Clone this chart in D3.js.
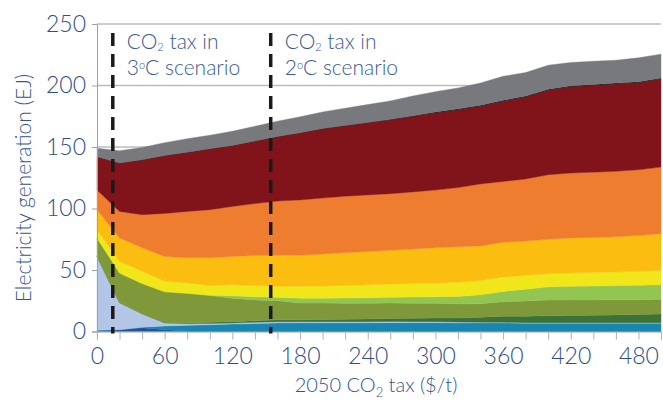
<!DOCTYPE html>
<html>
<head>
<meta charset="utf-8">
<script src="https://cdn.jsdelivr.net/npm/d3@7"></script>
<style>
  body { margin: 0; background: #fff; }
  text { font-family: Lato, "Noto Sans", sans-serif; font-weight: 300; }
</style>
</head>
<body>
<div id="chart"></div>
<script>
// CO2 tax ($/t), one point every 20
var taxes = d3.range(0, 501, 20);

var layerNames = ["navy", "teal", "lightblue", "darkgreen", "olive", "lightgreen",
                  "yellow", "gold", "orange", "darkred", "black", "gray"];
var layerColors = ["#24509c", "#1787b1", "#b3c6e6", "#3a7238", "#7f993a", "#93c552",
                   "#f1e619", "#fbbe10", "#ee7d30", "#80141a", "#1b1b1b", "#77797d"];

// values, EJ
var navy      = [1, 1.5, 3, 1.5, 0.5, 0, 0, 0, 0, 0, 0, 0, 0, 0, 0, 0, 0, 0, 0, 0, 0, 0, 0, 0, 0, 0];
var teal      = [0, 0, 0.5, 3, 4.5, 5.5, 6, 6.5, 7, 7, 7, 7, 7, 7.2, 7.2, 7.2, 7, 7, 7, 6.8, 6.8, 6.8, 6.8, 6.8, 6.8, 6.8];
var lightblue = [60, 22, 11, 2.5, 1.5, 1, 1, 1, 1, 1, 1, 1, 0.9, 0.9, 0.8, 0.8, 0.7, 0.6, 0.5, 0.4, 0.4, 0.4, 0.4, 0.4, 0.4, 0.4];
var darkgreen = [0, 0, 0, 0.3, 0.5, 1, 1, 1.2, 1.5, 1.5, 1.8, 2, 2.2, 2.5, 2.7, 3, 3.3, 4, 5, 5.3, 5.6, 5.8, 6, 6.3, 6.6, 7];
var olive     = [15, 24, 24.5, 25, 24, 21.7, 19, 17, 15.6, 13.6, 13.3, 13, 12.8, 12.5, 12.3, 12, 11.5, 11, 11.7, 12.3, 12.8, 12.7, 12.5, 12.3, 12.1, 12];
var lightgreen= [0, 0, 0, 0, 0, 0.3, 2, 2.5, 2.7, 4, 4, 4.2, 4.5, 4.8, 5, 5.3, 6, 7.3, 8.4, 9.5, 10.7, 11, 11.3, 11.5, 11.7, 11.8];
var yellow    = [6.8, 9.5, 10, 8.5, 8.5, 7.8, 9, 9.1, 9, 9.7, 9.9, 10.3, 10.6, 10.6, 11, 11.2, 11.5, 11.6, 11.8, 11.2, 10.7, 10.9, 11, 11, 11.4, 11.8];
var gold      = [16.2, 19, 19, 20.2, 20.5, 22.7, 23, 24.4, 25.2, 25.2, 26, 26.5, 27, 27.5, 28, 28.5, 29, 28, 28.1, 28, 28, 28.4, 28.5, 28.7, 29, 29.7];
var orange    = [16, 21.6, 27, 35, 37.6, 39, 40.7, 42.3, 44, 45, 45.5, 46, 46, 46, 46.5, 47, 48, 50.5, 49.5, 50.5, 52.4, 52.8, 53, 53.2, 53.5, 54.2];
var darkred   = [27, 39.4, 44.6, 47, 48.2, 49.5, 49.6, 50.8, 52.5, 54.5, 56.5, 57.5, 59, 60, 61.4, 62.7, 63.2, 63.2, 65.2, 66.7, 68.8, 70.1, 70.5, 71, 70.7, 71.5];
var black     = [0, 0, 0, 0, 0, 0, 0, 0, 0, 0, 0, 0, 0, 0.5, 0.6, 0.8, 0.8, 0.8, 0.8, 0.8, 0.8, 0.8, 0.8, 0.8, 0.8, 0.8];
var gray      = [7, 10, 10, 10.5, 11, 11, 11.5, 12, 12.5, 13, 13.5, 14, 14.5, 15, 16, 16.5, 17, 18, 19.5, 19, 19.5, 19, 19, 18.5, 19.5, 19.5];

var series = [navy, teal, lightblue, darkgreen, olive, lightgreen, yellow, gold, orange, darkred, black, gray];

var yTicks = [0, 50, 100, 150, 200, 250];
var xTickLabels = [0, 60, 120, 180, 240, 300, 360, 420, 480];
var xMinorTicks = d3.range(0, 501, 20);

// dashed markers: tax level of each scenario
var markerTax = [14, 154];
var markerLine1 = ["CO", " tax in"];
var markerLine2 = ["3", "2"];

var w = 663, h = 401;
var margin = {top: 24, right: 2, bottom: 69.5, left: 97};
var width = w - margin.left - margin.right;
var height = h - margin.top - margin.bottom;

var table = taxes.map(function(t, i) {
    var row = {tax: t};
    layerNames.forEach(function(k, j) { row[k] = series[j][i]; });
    return row;
});

var stack = d3.stack().keys(layerNames);
var stacked = stack(table);

var x = d3.scaleLinear().domain([0, 500]).range([0, width]);
var y = d3.scaleLinear().domain([0, 250]).range([height, 0]);

var svg = d3.select("#chart").append("svg")
    .attr("width", w)
    .attr("height", h);
var g = svg.append("g").attr("transform", "translate(" + margin.left + "," + margin.top + ")");

var textColor = "#2f4f87";

// gridlines
g.selectAll(".grid").data(yTicks.filter(function(d) { return d > 0; }))
  .enter().append("line")
    .attr("x1", 0).attr("x2", width)
    .attr("y1", function(d) { return y(d); })
    .attr("y2", function(d) { return y(d); })
    .style("stroke", "#bdbdbd")
    .style("stroke-width", 1.5);

var area = d3.area()
    .x(function(d) { return x(d.data.tax); })
    .y0(function(d) { return y(d[0]); })
    .y1(function(d) { return y(d[1]); });

g.selectAll(".layer").data(stacked)
  .enter().append("path")
    .attr("class", "layer")
    .attr("d", area)
    .style("fill", function(d, i) { return layerColors[i]; })
    .style("stroke", function(d, i) { return layerColors[i]; })
    .style("stroke-width", 0.4);

// y axis
var yAxis = d3.axisLeft(y).tickValues(yTicks).tickSize(5).tickPadding(6);
var ya = g.append("g").call(yAxis);
ya.select(".domain").style("stroke", "#a0a0a0");
ya.selectAll(".tick line").style("stroke", "#a0a0a0");
ya.selectAll(".tick text")
    .style("font-size", "23px").style("fill", textColor)
    .style("font-family", "Lato, 'Noto Sans', sans-serif");

// x axis, minor ticks every 20, labels every 60
var xAxis = d3.axisBottom(x).tickValues(xMinorTicks).tickSize(8)
    .tickFormat(function(d) { return xTickLabels.indexOf(d) >= 0 ? d : ""; });
var xa = g.append("g").attr("transform", "translate(0," + height + ")").call(xAxis);
xa.select(".domain").style("stroke", "#a0a0a0");
xa.selectAll(".tick line").style("stroke", "#b0b0b0");
xa.selectAll(".tick text")
    .attr("dy", "0.95em")
    .style("font-size", "23px").style("fill", textColor)
    .style("font-family", "Lato, 'Noto Sans', sans-serif");

// dashed scenario lines
g.selectAll(".marker").data(markerTax)
  .enter().append("line")
    .attr("x1", function(d) { return x(d); })
    .attr("x2", function(d) { return x(d); })
    .attr("y1", 9)
    .attr("y2", height + 2)
    .style("stroke", "#1a1a1a")
    .style("stroke-width", 3.5)
    .style("stroke-dasharray", "13,8");

// scenario labels
markerTax.forEach(function(t, i) {
    var lx = x(t) + 14;
    var tx = g.append("text")
        .attr("x", lx).attr("y", 25)
        .style("font-size", "21px").style("fill", "#3b5b93");
    tx.append("tspan").text(markerLine1[0]);
    tx.append("tspan").text("2").attr("dy", 2).style("font-size", "11px");
    tx.append("tspan").text(markerLine1[1]).attr("dy", -2);

    var tx2 = g.append("text")
        .attr("x", lx).attr("y", 51)
        .style("font-size", "21px").style("fill", "#3b5b93");
    tx2.append("tspan").text(markerLine2[i]);
    tx2.append("tspan").text("o").attr("dy", -6).style("font-size", "11px");
    tx2.append("tspan").text("C scenario").attr("dy", 6);
});

// axis titles
var yt = svg.append("text")
    .attr("transform", "translate(31,188) rotate(-90)")
    .attr("text-anchor", "middle")
    .style("font-size", "21px").style("fill", "#34558c");
yt.text("Electricity generation (EJ)");

var xt = svg.append("text")
    .attr("x", margin.left + width / 2 - 3)
    .attr("y", 392)
    .attr("text-anchor", "middle")
    .style("font-size", "20px").style("fill", "#34558c");
xt.append("tspan").text("2050 CO");
xt.append("tspan").text("2").attr("dy", 5).style("font-size", "13px");
xt.append("tspan").text(" tax ($/t)").attr("dy", -5);
</script>
</body>
</html>
